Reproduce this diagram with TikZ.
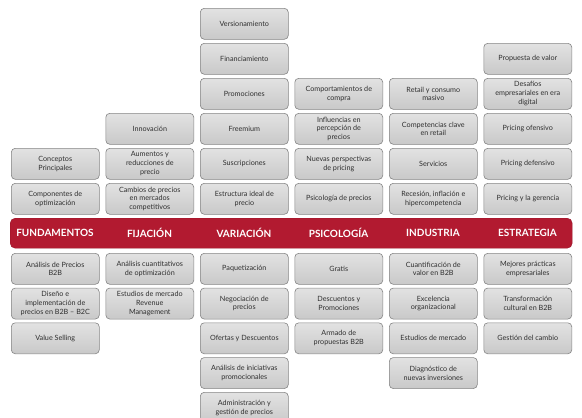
\documentclass[tikz,border=0pt]{standalone}
\usepackage{fontspec}
\setmainfont{Lato}
\definecolor{boxline}{HTML}{858585}
\definecolor{boxtop}{HTML}{E2E2E2}
\definecolor{boxbot}{HTML}{C9C9C9}
\definecolor{boxtext}{HTML}{303030}
\definecolor{bandred}{HTML}{B21A30}
\tikzset{
  box/.style={draw=boxline, line width=0.6pt, rounded corners=4pt, top color=boxtop, bottom color=boxbot,
    minimum width=88pt, minimum height=31pt, inner sep=1pt, align=center,
    font=\fontsize{7.2}{8.8}\selectfont, text=boxtext, anchor=north west},
  band/.style={fill=bandred, draw=bandred!85!black, line width=0.4pt, rounded corners=5pt, minimum width=562pt, minimum height=30pt, anchor=north west, inner sep=0pt},
  head/.style={text=white, font=\fontsize{10}{12}\selectfont\bfseries}
}
\newcommand\mybox[4]{\node[box] (#1) at (#2,#3) {#4};}
\begin{document}
\begin{tikzpicture}[x=1pt,y=1pt]
\useasboundingbox (0,0) rectangle (582,-418);
% column 1
\mybox{a14}{11}{-148}{Conceptos\\Principales}
\mybox{a15}{11}{-183}{Componentes de\\optimización}
\mybox{b10}{11}{-253}{Análisis de Precios\\B2B}
\mybox{b11}{11}{-287.75}{Diseño e\\implementación de\\precios en B2B – B2C}
\mybox{b12}{11}{-322.5}{Value Selling}
% column 2
\mybox{a23}{105.5}{-113}{Innovación}
\mybox{a24}{105.5}{-148}{Aumentos y\\reducciones de\\precio}
\mybox{a25}{105.5}{-183}{Cambios de precios\\en mercados\\competitivos}
\mybox{b20}{105.5}{-253}{Análisis cuantitativos\\de optimización}
\mybox{b21}{105.5}{-287.75}{Estudios de mercado\\Revenue\\Management}
% column 3
\mybox{a30}{200}{-8}{Versionamiento}
\mybox{a31}{200}{-43}{Financiamiento}
\mybox{a32}{200}{-78}{Promociones}
\mybox{a33}{200}{-113}{Freemium}
\mybox{a34}{200}{-148}{Suscripciones}
\mybox{a35}{200}{-183}{Estructura ideal de\\precio}
\mybox{b30}{200}{-253}{Paquetización}
\mybox{b31}{200}{-287.75}{Negociación de\\precios}
\mybox{b32}{200}{-322.5}{Ofertas y Descuentos}
\mybox{b33}{200}{-357.25}{Análisis de iniciativas\\promocionales}
\mybox{b34}{200}{-392}{Administración y\\gestión de precios}
% column 4
\mybox{a42}{294.5}{-78}{Comportamientos de\\compra}
\mybox{a43}{294.5}{-113}{Influencias en\\percepción de\\precios}
\mybox{a44}{294.5}{-148}{Nuevas perspectivas\\de pricing}
\mybox{a45}{294.5}{-183}{Psicología de precios}
\mybox{b40}{294.5}{-253}{Gratis}
\mybox{b41}{294.5}{-287.75}{Descuentos y\\Promociones}
\mybox{b42}{294.5}{-322.5}{Armado de\\propuestas B2B}
% column 5
\mybox{a52}{389}{-78}{Retail y consumo\\masivo}
\mybox{a53}{389}{-113}{Competencias clave\\en retail}
\mybox{a54}{389}{-148}{Servicios}
\mybox{a55}{389}{-183}{Recesión, inflación e\\hipercompetencia}
\mybox{b50}{389}{-253}{Cuantificación de\\valor en B2B}
\mybox{b51}{389}{-287.75}{Excelencia\\organizacional}
\mybox{b52}{389}{-322.5}{Estudios de mercado}
\mybox{b53}{389}{-357.25}{Diagnóstico de\\nuevas inversiones}
% column 6
\mybox{a61}{483.5}{-43}{Propuesta de valor}
\mybox{a62}{483.5}{-78}{Desafíos\\empresariales en era\\digital}
\mybox{a63}{483.5}{-113}{Pricing ofensivo}
\mybox{a64}{483.5}{-148}{Pricing defensivo}
\mybox{a65}{483.5}{-183}{Pricing y la gerencia}
\mybox{b60}{483.5}{-253}{Mejores prácticas\\empresariales}
\mybox{b61}{483.5}{-287.75}{Transformación\\cultural en B2B}
\mybox{b62}{483.5}{-322.5}{Gestión del cambio}
% red band
\node[band] (bar) at (10,-218) {};
\node[head] (h1) at (55,-233) {FUNDAMENTOS};
\node[head] (h2) at (149.5,-233) {FIJACIÓN};
\node[head] (h3) at (244,-233) {VARIACIÓN};
\node[head] (h4) at (338.5,-233) {PSICOLOGÍA};
\node[head] (h5) at (433,-233) {INDUSTRIA};
\node[head] (h6) at (527.5,-233) {ESTRATEGIA};
\end{tikzpicture}
\end{document}
